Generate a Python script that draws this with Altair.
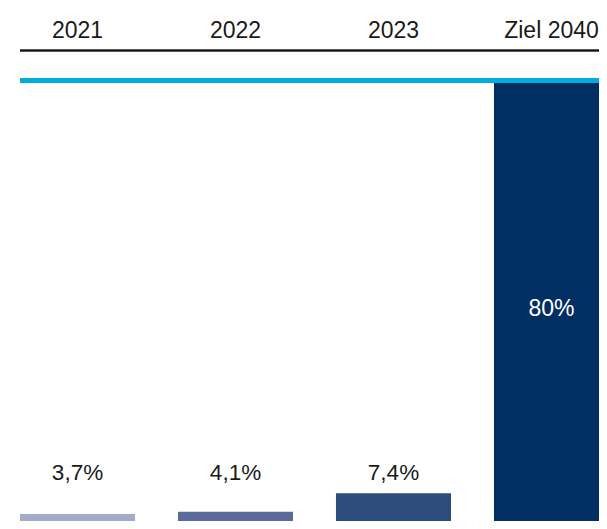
import altair as alt
import pandas as pd

years = ["2021", "2022", "2023", "Ziel 2040"]
values = [3.7, 4.1, 7.4, 80.0]
labels = ["3,7%", "4,1%", "7,4%", "80%"]
colors = ["#a3abc8", "#5b6b98", "#2c4d7b", "#012e63"]

df = pd.DataFrame({"year": years, "value": values, "label": labels, "color": colors})

FONT = "Liberation Sans"
W, H = 591, 513

x = alt.X("year:N", sort=years, axis=None,
          scale=alt.Scale(range=[12, 601], paddingInner=0.272, paddingOuter=0))
# value v -> svg y = 527 - 5.65 v ; plot height H
y_scale = alt.Scale(domain=[(527 - H) / 5.65, 527 / 5.65], nice=False, zero=False)

base = alt.Chart(df)

bars = base.mark_bar(clip=True).encode(
    x=x,
    y=alt.Y("value:Q", scale=y_scale, axis=None),
    y2=alt.datum(0),
    color=alt.Color("color:N", scale=None, legend=None),
)

header = base.mark_text(font=FONT, fontSize=23, color="#1a1a1a", baseline="alphabetic").encode(
    x=x, y=alt.value(29.5), text="year:N"
)

small_labels = base.transform_filter(alt.datum.value < 50).mark_text(
    font=FONT, fontSize=22.5, color="#1a1a1a", baseline="alphabetic"
).encode(x=x, y=alt.value(471.5), text="label:N")

big_label = base.transform_filter(alt.datum.value >= 50).transform_calculate(
    mid="datum.value / 2"
).mark_text(font=FONT, fontSize=23, color="#ffffff", baseline="middle").encode(
    x=x, y=alt.Y("mid:Q", scale=y_scale, axis=None), text="label:N"
)

black_rule = base.mark_rule(color="#111111", strokeWidth=1.5).encode(
    x=alt.value(12), x2=alt.value(W), y=alt.value(42.5)
)

cyan_rule = base.mark_rule(color="#00ade0", strokeWidth=5).encode(
    x=alt.value(12), x2=alt.value(W), y=alt.value(72.5)
)

chart = alt.layer(bars, cyan_rule, black_rule, header, small_labels, big_label).properties(
    width=W, height=H, padding=0, autosize="none"
).configure_view(stroke=None)

chart.save("out.html", embed_options={"renderer": "svg", "actions": False})
